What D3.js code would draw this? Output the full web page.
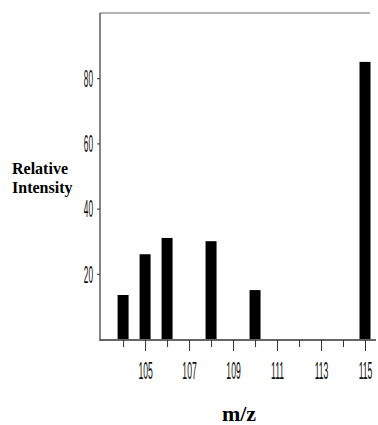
<!DOCTYPE html>
<html><head><meta charset="utf-8">
<script src="https://cdn.jsdelivr.net/npm/d3@7"></script>
<style>body{margin:0;background:#fff}svg{display:block}</style>
</head><body>
<svg id="c" width="378" height="425"></svg>
<script>
const mz = [104, 105, 106, 108, 110, 115];
const intensity = [13.5, 26, 31, 30, 15, 85];
const xTicks = [104,105,106,107,108,109,110,111,112,113,114,115];
const xTickLabels = ["105","107","109","111","113","115"];
const yTicks = [20, 40, 60, 80];

const svg = d3.select("#c");
const x = d3.scaleLinear().domain([102.95, 115.5]).range([100, 376]);
const y = d3.scaleLinear().domain([0, 100]).range([339, 13]);
const narrowFont = "'Liberation Sans', Arial, sans-serif";
const sx = 0.36;

// frame top line
svg.append("line").attr("x1", 100).attr("x2", 370).attr("y1", y(100)).attr("y2", y(100))
  .attr("stroke", "#666").attr("stroke-width", 1);

// y axis
const yAxis = d3.axisLeft(y).tickValues(yTicks).tickSize(3).tickPadding(4).tickFormat(d3.format("d"));
const gy = svg.append("g").attr("transform", "translate(100,0)").call(yAxis);
gy.select(".domain").attr("d", `M0,${y(100)}V${y(0)+2}`).attr("stroke", "#333").attr("stroke-width", 1.2);
gy.selectAll(".tick line").attr("stroke", "#333");
gy.selectAll("text")
  .attr("font-family", narrowFont).attr("font-size", 23).attr("fill", "#111")
  .attr("x", -7 / sx).attr("dy", "0.36em")
  .attr("transform", `scale(${sx},1)`);

// x axis
const xAxis = d3.axisBottom(x).tickValues(xTicks).tickSize(8).tickPadding(14)
  .tickFormat(d => xTickLabels.includes(String(d)) ? String(d) : "");
const gx = svg.append("g").attr("transform", `translate(0,${y(0)+1})`).call(xAxis);
gx.select(".domain").attr("d", `M100,0H376`).attr("stroke", "#333").attr("stroke-width", 1.5);
gx.selectAll(".tick line").attr("stroke", "#333")
  .attr("y2", d => xTickLabels.includes(String(d)) ? 11 : 7);
gx.selectAll("text")
  .attr("font-family", narrowFont).attr("font-size", 24).attr("fill", "#111")
  .attr("y", 39).attr("dy", null)
  .attr("transform", `scale(${sx},1)`);

// bars
const bw = 11;
svg.append("g").selectAll("rect").data(mz).join("rect")
  .attr("x", (d) => x(d) - bw / 2)
  .attr("width", bw)
  .attr("y", (d, i) => y(intensity[i]))
  .attr("height", (d, i) => y(0) - y(intensity[i]))
  .attr("fill", "#000");

// axis titles
const serif = "'Liberation Serif', 'Times New Roman', serif";
svg.append("text").attr("x", 12).attr("y", 174).text("Relative")
  .attr("font-family", serif).attr("font-weight", "bold").attr("font-size", 16);
svg.append("text").attr("x", 12).attr("y", 193).text("Intensity")
  .attr("font-family", serif).attr("font-weight", "bold").attr("font-size", 16);
svg.append("text").attr("x", 239).attr("y", 421).attr("text-anchor", "middle").text("m/z")
  .attr("font-family", serif).attr("font-weight", "bold").attr("font-size", 22);
</script>
</body></html>
